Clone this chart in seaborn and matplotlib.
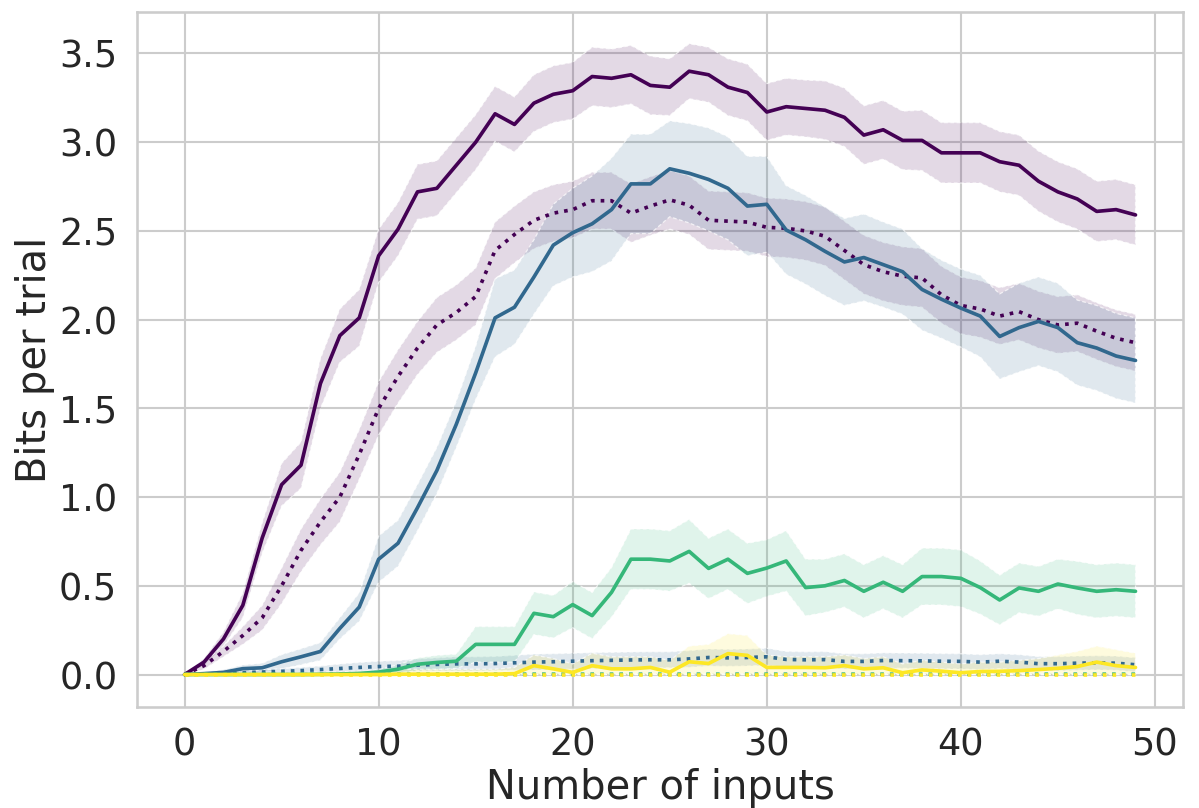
import numpy as np
import pandas as pd
import matplotlib
matplotlib.use("Agg")
import matplotlib.pyplot as plt
import seaborn as sns

# ---------------- data ----------------
n_inputs = list(range(50))

hue_levels = ["A", "B", "C", "D"]          # purple, blue, green, yellow
style_levels = ["solid", "dotted"]

# purple
purple_solid = [0.00, 0.07, 0.20, 0.39, 0.77, 1.07, 1.18, 1.64, 1.91, 2.01,
                2.36, 2.51, 2.72, 2.74, 2.87, 3.00, 3.16, 3.10, 3.22, 3.27,
                3.29, 3.37, 3.36, 3.38, 3.32, 3.31, 3.40, 3.38, 3.31, 3.28,
                3.17, 3.20, 3.19, 3.18, 3.14, 3.04, 3.07, 3.01, 3.01, 2.94,
                2.94, 2.94, 2.89, 2.87, 2.78, 2.72, 2.68, 2.61, 2.62, 2.59]
purple_solid_err = [0.00, 0.02, 0.04, 0.07, 0.085, 0.12, 0.13, 0.14, 0.15, 0.16,
                    0.15, 0.15, 0.155, 0.155, 0.155, 0.155, 0.155, 0.155, 0.16, 0.16,
                    0.16, 0.165, 0.165, 0.165, 0.165, 0.16, 0.155, 0.155, 0.16, 0.16,
                    0.16, 0.16, 0.16, 0.165, 0.165, 0.165, 0.165, 0.165, 0.17, 0.17,
                    0.17, 0.17, 0.17, 0.17, 0.17, 0.17, 0.17, 0.17, 0.17, 0.17]
purple_dotted = [0.00, 0.05, 0.13, 0.22, 0.32, 0.50, 0.70, 0.86, 1.00, 1.24,
                 1.50, 1.68, 1.84, 1.97, 2.04, 2.13, 2.39, 2.48, 2.56, 2.60,
                 2.62, 2.67, 2.67, 2.60, 2.64, 2.675, 2.645, 2.56, 2.555, 2.55,
                 2.52, 2.515, 2.50, 2.47, 2.39, 2.31, 2.27, 2.245, 2.235, 2.14,
                 2.08, 2.06, 2.02, 2.045, 2.00, 1.97, 1.98, 1.935, 1.895, 1.87]
purple_dotted_err = [0.00, 0.02, 0.03, 0.05, 0.07, 0.10, 0.12, 0.13, 0.14, 0.14,
                     0.15, 0.15, 0.15, 0.155, 0.155, 0.16, 0.16, 0.16, 0.16, 0.16,
                     0.16, 0.16, 0.16, 0.165, 0.165, 0.165, 0.165, 0.165, 0.165, 0.165,
                     0.165, 0.165, 0.165, 0.165, 0.165, 0.165, 0.165, 0.165, 0.165, 0.16,
                     0.16, 0.16, 0.16, 0.16, 0.16, 0.16, 0.16, 0.16, 0.16, 0.16]

# blue
blue_solid = [0.00, 0.005, 0.012, 0.033, 0.038, 0.072, 0.10, 0.13, 0.26, 0.38,
              0.65, 0.74, 0.94, 1.15, 1.41, 1.70, 2.01, 2.07, 2.24, 2.42,
              2.49, 2.54, 2.62, 2.765, 2.765, 2.85, 2.825, 2.79, 2.74, 2.64,
              2.65, 2.505, 2.45, 2.385, 2.325, 2.35, 2.31, 2.27, 2.17, 2.115,
              2.065, 2.02, 1.905, 1.955, 1.99, 1.955, 1.87, 1.84, 1.795, 1.77]
blue_solid_err = [0.00, 0.01, 0.015, 0.02, 0.025, 0.04, 0.045, 0.05, 0.06, 0.08,
                  0.13, 0.13, 0.13, 0.13, 0.13, 0.15, 0.22, 0.21, 0.21, 0.23,
                  0.25, 0.27, 0.29, 0.28, 0.28, 0.27, 0.28, 0.29, 0.29, 0.28,
                  0.27, 0.25, 0.25, 0.25, 0.245, 0.245, 0.24, 0.24, 0.23, 0.22,
                  0.22, 0.23, 0.24, 0.25, 0.25, 0.25, 0.24, 0.24, 0.24, 0.24]
blue_dotted = [0.00, 0.003, 0.006, 0.010, 0.014, 0.018, 0.022, 0.028, 0.034, 0.040,
               0.045, 0.047, 0.053, 0.057, 0.060, 0.060, 0.062, 0.066, 0.070, 0.072,
               0.075, 0.078, 0.080, 0.082, 0.083, 0.083, 0.088, 0.096, 0.094, 0.096,
               0.100, 0.085, 0.083, 0.084, 0.074, 0.074, 0.079, 0.078, 0.077, 0.075,
               0.074, 0.070, 0.075, 0.070, 0.061, 0.061, 0.064, 0.066, 0.064, 0.055]
blue_dotted_err = [0.00, 0.004, 0.008, 0.01, 0.012, 0.015, 0.018, 0.02, 0.025, 0.028,
                   0.03, 0.032, 0.035, 0.037, 0.04, 0.04, 0.04, 0.042, 0.045, 0.045,
                   0.045, 0.045, 0.045, 0.045, 0.045, 0.045, 0.047, 0.048, 0.048, 0.048,
                   0.048, 0.045, 0.045, 0.045, 0.043, 0.043, 0.043, 0.043, 0.043, 0.043,
                   0.043, 0.042, 0.042, 0.042, 0.04, 0.04, 0.04, 0.04, 0.04, 0.04]

# green
green_solid = [0.00, 0.00, 0.00, 0.00, 0.00, 0.00, 0.00, 0.001, 0.003, 0.006,
               0.014, 0.030, 0.058, 0.068, 0.075, 0.17, 0.17, 0.17, 0.345, 0.326,
               0.394, 0.332, 0.463, 0.65, 0.65, 0.64, 0.694, 0.598, 0.65, 0.57,
               0.60, 0.64, 0.49, 0.50, 0.53, 0.469, 0.52, 0.469, 0.552, 0.552,
               0.542, 0.49, 0.42, 0.488, 0.469, 0.51, 0.488, 0.469, 0.478, 0.469]
green_solid_err = [0.00, 0.00, 0.00, 0.00, 0.00, 0.00, 0.00, 0.003, 0.006, 0.01,
                   0.015, 0.025, 0.035, 0.04, 0.04, 0.10, 0.10, 0.10, 0.12, 0.12,
                   0.13, 0.13, 0.14, 0.17, 0.17, 0.17, 0.18, 0.17, 0.17, 0.17,
                   0.16, 0.17, 0.16, 0.15, 0.15, 0.15, 0.15, 0.15, 0.16, 0.16,
                   0.16, 0.15, 0.14, 0.14, 0.14, 0.14, 0.15, 0.15, 0.15, 0.15]
green_dotted = [0.0] + [0.002] * 49
green_dotted_err = [0.0] + [0.004] * 49

# yellow
yellow_solid = [0.00, 0.00, 0.00, 0.00, 0.00, 0.00, 0.00, 0.00, 0.00, 0.00,
                0.00, 0.002, 0.002, 0.002, 0.002, 0.002, 0.002, 0.005, 0.05, 0.032,
                0.012, 0.05, 0.032, 0.032, 0.04, 0.013, 0.072, 0.062, 0.118, 0.108,
                0.04, 0.04, 0.04, 0.038, 0.05, 0.032, 0.038, 0.01, 0.026, 0.019,
                0.01, 0.017, 0.018, 0.022, 0.028, 0.035, 0.045, 0.07, 0.05, 0.04]
yellow_solid_upper = [0.00, 0.01, 0.01, 0.01, 0.01, 0.01, 0.01, 0.015, 0.015, 0.02,
                      0.02, 0.03, 0.03, 0.03, 0.03, 0.03, 0.03, 0.04, 0.11, 0.09,
                      0.06, 0.12, 0.10, 0.10, 0.10, 0.08, 0.16, 0.17, 0.23, 0.22,
                      0.11, 0.10, 0.10, 0.10, 0.11, 0.09, 0.10, 0.06, 0.08, 0.07,
                      0.06, 0.07, 0.07, 0.08, 0.09, 0.11, 0.13, 0.16, 0.14, 0.12]
yellow_solid_lower = [0.0] * 50
yellow_dotted = [0.0] * 50
yellow_dotted_err = [0.0] + [0.003] * 49

# ---------------- assemble long table ----------------
def band(mean, err):
    return ([m - e for m, e in zip(mean, err)], [m + e for m, e in zip(mean, err)])

series = [
    ("A", "solid", purple_solid, *band(purple_solid, purple_solid_err)),
    ("A", "dotted", purple_dotted, *band(purple_dotted, purple_dotted_err)),
    ("B", "solid", blue_solid, *band(blue_solid, blue_solid_err)),
    ("B", "dotted", blue_dotted, *band(blue_dotted, blue_dotted_err)),
    ("C", "solid", green_solid, *band(green_solid, green_solid_err)),
    ("C", "dotted", green_dotted, green_dotted,
     [m + e for m, e in zip(green_dotted, green_dotted_err)]),
    ("D", "solid", yellow_solid, yellow_solid_lower, yellow_solid_upper),
    ("D", "dotted", yellow_dotted, yellow_dotted,
     [m + e for m, e in zip(yellow_dotted, yellow_dotted_err)]),
]

rows = []
for hue, sty, mean, lo, hi in series:
    for x, m, l, h in zip(n_inputs, mean, lo, hi):
        for v in (l, m, h):
            rows.append({"inputs": x, "bits": v, "group": hue, "kind": sty})
df = pd.DataFrame(rows)

# ---------------- plot ----------------
sns.set_theme(style="whitegrid", context="notebook", font_scale=1.6)
plt.rcParams["font.family"] = ["DejaVu Sans"]

colors = [matplotlib.colors.to_hex(c) for c in plt.cm.viridis(np.linspace(0, 1, 4))]

fig = plt.figure(figsize=(1199 / 150, 808 / 150), dpi=150)
ax = fig.add_axes([0.1143, 0.125, 0.8724, 0.860])

sns.lineplot(
    data=df, x="inputs", y="bits", hue="group", style="kind",
    hue_order=hue_levels, style_order=style_levels,
    palette=colors, dashes={"solid": "", "dotted": (1, 1.65)},
    estimator="median", errorbar=("pi", 100),
    linewidth=1.75, legend=False, ax=ax,
)

# lighter bands with thin white dashed edges, as in the reference
for coll in ax.collections:
    fc = coll.get_facecolor()[0]
    coll.set_alpha(None)
    coll.set_facecolor((fc[0], fc[1], fc[2], 0.15))
    coll.set_edgecolor((1, 1, 1, 0.7))
    coll.set_linewidth(0.6)
    coll.set_linestyle((0, (3, 2)))

ax.set_xlabel("Number of inputs", labelpad=2)
ax.set_ylabel("Bits per trial", labelpad=2)

fig.savefig("out.png", dpi=150)
